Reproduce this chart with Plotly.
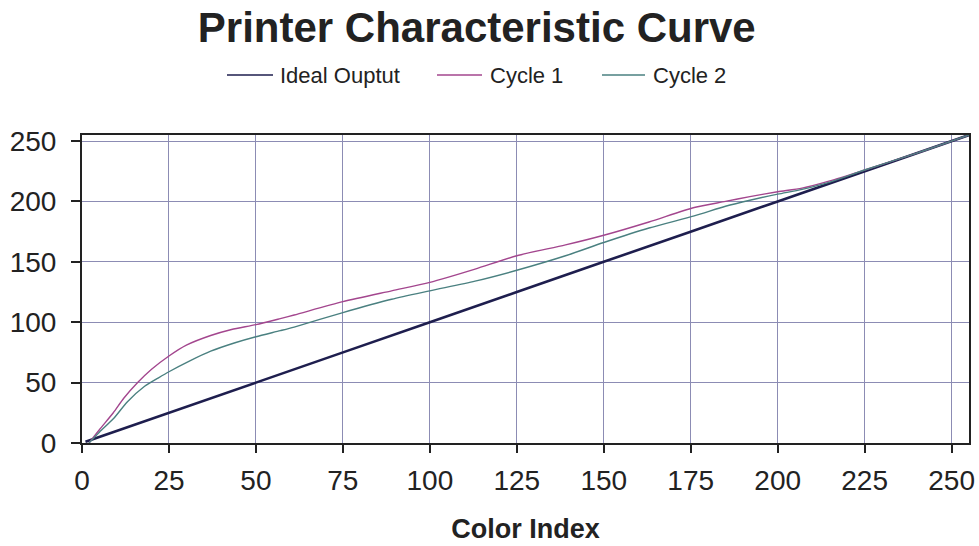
import plotly.graph_objects as go

# Colour index values and measured printer output for two print cycles
ideal_x = [1, 50, 100, 150, 200, 255]
ideal_y = [1, 50, 100, 150, 200, 255]

cycle1_x = [2, 5, 9, 12, 16, 20, 25, 30, 37, 43, 50, 57, 61, 75, 89, 100, 113, 125,
            139, 150, 163, 176, 185, 192, 200, 207, 215, 225, 240, 255]
cycle1_y = [0, 11, 25, 37, 50, 61, 72, 81, 89, 94, 98, 103, 106, 117, 126, 133, 144, 155,
            164, 172, 183, 195, 200, 204, 208, 211, 217, 226, 240, 255]

cycle2_x = [2, 5, 9, 13, 18, 22, 25, 31, 37, 44, 50, 57, 61, 75, 89, 100, 113, 125,
            139, 150, 163, 176, 185, 192, 200, 207, 215, 225, 240, 255]
cycle2_y = [0, 9, 20, 34, 47, 54, 59, 68, 76, 83, 88, 93, 96, 108, 119, 126, 134, 143,
            155, 166, 178, 188, 196, 201, 206, 210, 216, 226, 240, 255]

series_names = ["Ideal Ouptut", "Cycle 1", "Cycle 2"]
series_colors = ["#1e1e4e", "#a3468e", "#4a8080"]
series_widths = [2.6, 1.4, 1.4]

tick_vals = [0, 25, 50, 75, 100, 125, 150, 175, 200, 225, 250]
y_tick_vals = [0, 50, 100, 150, 200, 250]

FONT = "Liberation Sans, Arial, sans-serif"
TEXT = "#222222"

W, H = 979, 546
L, R, T, B = 82, 10, 135, 103
plot_w = W - L - R
plot_h = H - T - B

fig = go.Figure()
for (xs, ys), name, col, lw in zip(
    [(ideal_x, ideal_y), (cycle1_x, cycle1_y), (cycle2_x, cycle2_y)],
    series_names, series_colors, series_widths,
):
    fig.add_trace(go.Scatter(x=xs, y=ys, mode="lines", name=name,
                             line=dict(color=col, width=lw, shape="spline", smoothing=0.7),
                             showlegend=False))

# Legend row above the plot: short line sample followed by the series name
legend_items = [(227, 273, 278), (437, 482, 488), (602, 645, 651)]
legend_y = 75
for (x0, x1, tx), name, col in zip(legend_items, series_names, series_colors):
    py = (H - B - legend_y) / plot_h
    fig.add_shape(type="line", xref="paper", yref="paper",
                  x0=(x0 - L) / plot_w, x1=(x1 - L) / plot_w, y0=py, y1=py,
                  line=dict(color=col, width=1.6))
    fig.add_annotation(xref="paper", yref="paper", x=(tx - L) / plot_w, y=py,
                       xanchor="left", yanchor="middle", text=name, showarrow=False,
                       font=dict(family=FONT, size=22, color=TEXT))

fig.update_layout(
    width=W, height=H,
    margin=dict(l=L, r=R, t=T, b=B, autoexpand=False),
    paper_bgcolor="white", plot_bgcolor="white",
    title=dict(text="<b>Printer Characteristic Curve</b>",
               x=0.487, xref="container", xanchor="center",
               y=1 - 27 / H, yref="container", yanchor="middle",
               font=dict(family=FONT, size=42, color=TEXT)),
)

fig.update_xaxes(
    range=[0, 255], tickvals=tick_vals, ticks="outside", ticklen=8, tickwidth=1.5,
    tickcolor="#222", showline=True, linecolor="#222", linewidth=2, mirror=True,
    showgrid=True, gridcolor="#8c8cb4", gridwidth=1, zeroline=False, automargin=False,
    tickfont=dict(family=FONT, size=28, color=TEXT), ticklabelstandoff=3,
    title=dict(text="<b>Color Index</b>", standoff=25,
               font=dict(family=FONT, size=27, color=TEXT)),
)
fig.update_yaxes(
    range=[0, 255], tickvals=y_tick_vals, ticks="outside", ticklen=9, tickwidth=1.5,
    tickcolor="#222", showline=True, linecolor="#222", linewidth=2, mirror=True,
    showgrid=True, gridcolor="#8c8cb4", gridwidth=1, zeroline=False, automargin=False,
    tickfont=dict(family=FONT, size=28, color=TEXT), ticklabelstandoff=9,
)

fig.write_html("out.html")
